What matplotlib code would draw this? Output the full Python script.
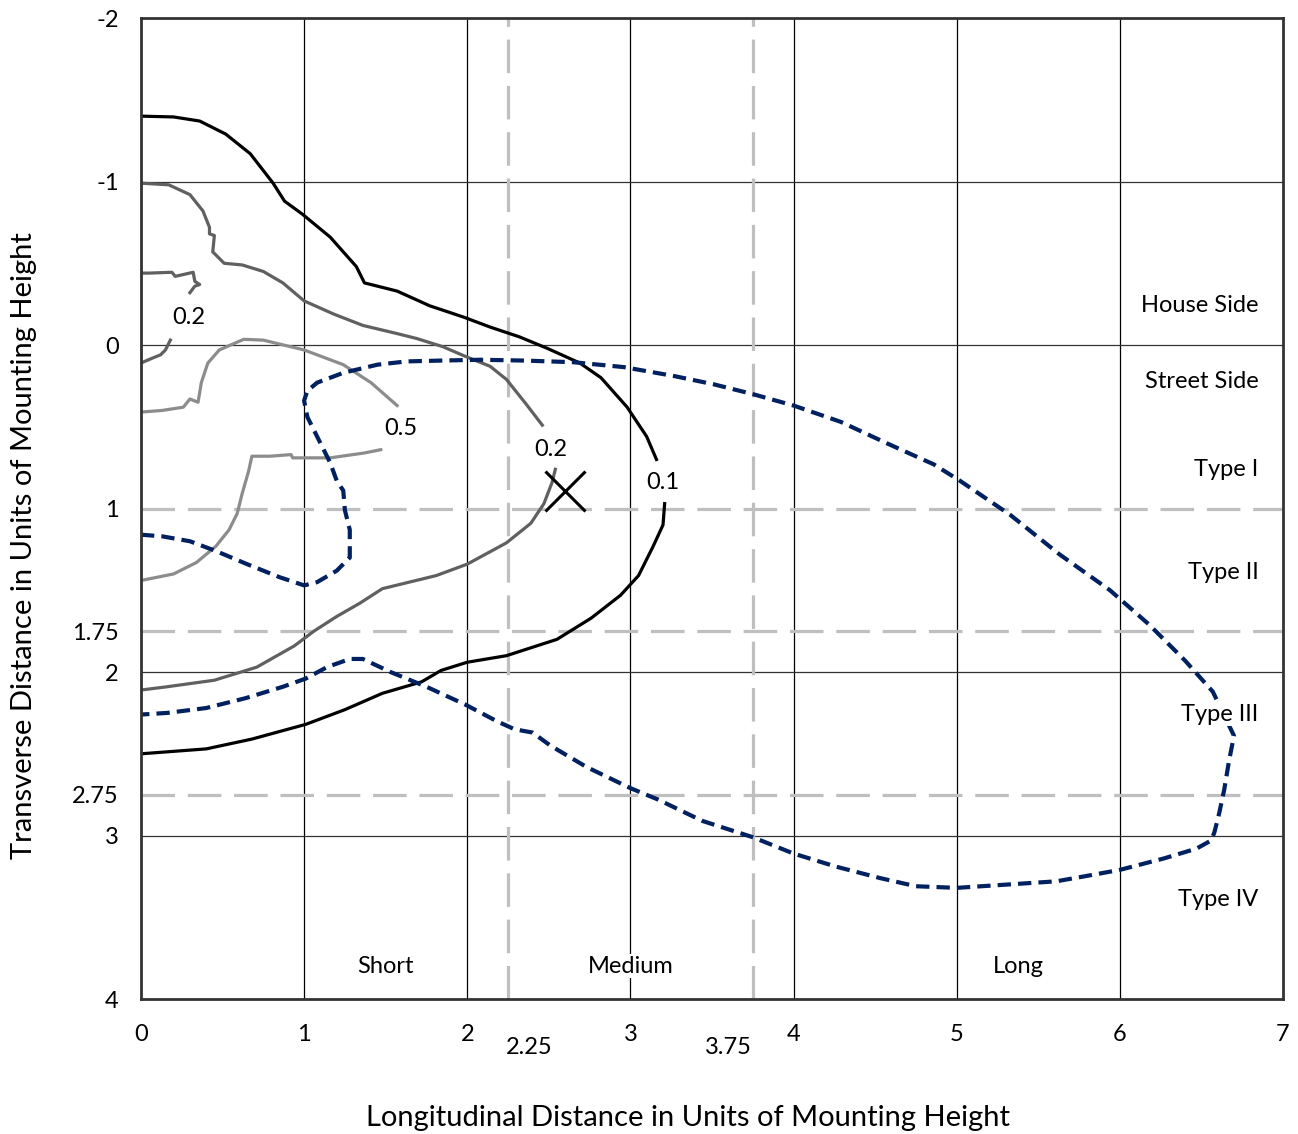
import numpy as np
import matplotlib
matplotlib.use("Agg")
import matplotlib.pyplot as plt
from matplotlib.transforms import blended_transform_factory

plt.rcParams['font.family'] = ['Lato', 'DejaVu Sans']

nan = np.nan

# 0.1 contour (black), gap where the label sits
c01_x = [0, 0.20, 0.36, 0.52, 0.67, 0.81, 0.88, 0.99, 1.16, 1.32, 1.37, 1.57, 1.77, 1.98, 2.14, 2.32,
         2.49, 2.69, 2.82, 2.98, 3.10, 3.16, nan,
         3.21, 3.20, 3.14, 3.05, 2.94, 2.76, 2.55, 2.24, 2.00, 1.84, 1.72, 1.48, 1.25, 1.01,
         0.68, 0.40, 0.0]
c01_y = [-1.40, -1.395, -1.37, -1.29, -1.17, -0.99, -0.88, -0.80, -0.66, -0.48, -0.38, -0.33, -0.24, -0.17,
         -0.11, -0.05, 0.02, 0.11, 0.20, 0.38, 0.56, 0.70, nan,
         0.97, 1.10, 1.23, 1.41, 1.53, 1.67, 1.80, 1.90, 1.94, 1.99, 2.06, 2.13, 2.23, 2.32,
         2.41, 2.47, 2.50]

# outer 0.2 contour (dark grey)
c02_x = [0, 0.17, 0.30, 0.38, 0.42, 0.42, 0.45, 0.44, 0.51, 0.62, 0.75, 0.87, 1.00, 1.18, 1.36,
         1.57, 1.69, 1.85, 1.99, 2.14, 2.24, 2.36, 2.46, nan,
         2.54, 2.52, 2.47, 2.39, 2.24, 2.00, 1.81, 1.48, 1.34, 1.20, 1.06, 0.94, 0.71, 0.45,
         0.16, 0.0]
c02_y = [-0.99, -0.98, -0.92, -0.82, -0.72, -0.68, -0.67, -0.57, -0.50, -0.49, -0.45, -0.38, -0.27,
         -0.19, -0.12, -0.07, -0.04, 0.01, 0.07, 0.13, 0.21, 0.36, 0.49, nan,
         0.76, 0.84, 0.97, 1.09, 1.21, 1.34, 1.41, 1.49, 1.58, 1.66, 1.75, 1.84, 1.97, 2.05,
         2.09, 2.11]

# small inner 0.2 contour near the pole
c02b_x = [0, 0.05, 0.19, 0.21, 0.32, 0.33, 0.36, 0.33, 0.30, nan,
          0.18, 0.15, 0.12, 0.07, 0.0]
c02b_y = [-0.44, -0.44, -0.445, -0.42, -0.445, -0.39, -0.37, -0.36, -0.32, nan,
          -0.03, 0.03, 0.06, 0.08, 0.11]

# 0.5 contour (light grey)
c05_x = [0, 0.13, 0.26, 0.30, 0.35, 0.37, 0.41, 0.48, 0.63, 0.75, 1.00, 1.24, 1.41, 1.57, nan,
         1.47, 1.37, 1.16, 0.93, 0.92, 0.79, 0.68, 0.66, 0.62, 0.59, 0.54, 0.46, 0.34, 0.20, 0.0]
c05_y = [0.41, 0.40, 0.38, 0.33, 0.35, 0.23, 0.11, 0.03, -0.035, -0.03, 0.03, 0.12, 0.23, 0.37, nan,
         0.64, 0.66, 0.69, 0.69, 0.67, 0.68, 0.68, 0.77, 0.91, 1.03, 1.13, 1.23, 1.33, 1.40, 1.44]

# half-maximum candela trace (blue dashed)
cd_x = [0, 0.13, 0.30, 0.46, 0.65, 0.85, 1.00, 1.08, 1.20, 1.28, 1.28, 1.25, 1.24, 1.20, 1.16,
        1.08, 1.02, 1.00, 1.02, 1.08, 1.24, 1.45, 1.63, 1.84, 2.08, 2.35, 2.65, 2.96, 3.27,
        3.51, 3.75, 4.00, 4.29, 4.57, 4.86, 5.02, 5.33, 5.63, 5.94, 6.18, 6.40, 6.57, 6.70,
        6.67, 6.64, 6.61, 6.58, 6.56, 6.47, 6.27, 6.00, 5.78, 5.61, 5.00, 4.75, 4.53, 4.26,
        4.00, 3.75, 3.44, 3.17, 3.00, 2.73, 2.51, 2.40, 2.29, 2.18, 1.99, 1.75, 1.53, 1.36,
        1.28, 1.14, 1.01, 0.87, 0.64, 0.40, 0.16, 0.0]
cd_y = [1.16, 1.17, 1.20, 1.26, 1.34, 1.42, 1.47, 1.45, 1.38, 1.30, 1.13, 1.01, 0.89, 0.83, 0.72,
        0.56, 0.44, 0.34, 0.28, 0.23, 0.17, 0.12, 0.10, 0.095, 0.09, 0.095, 0.105, 0.135, 0.19,
        0.24, 0.30, 0.37, 0.47, 0.60, 0.73, 0.83, 1.04, 1.28, 1.50, 1.71, 1.93, 2.12, 2.39,
        2.54, 2.72, 2.86, 2.98, 3.03, 3.08, 3.14, 3.21, 3.25, 3.28, 3.32, 3.31, 3.26, 3.19,
        3.11, 3.01, 2.91, 2.78, 2.71, 2.58, 2.45, 2.37, 2.35, 2.30, 2.20, 2.09, 2.00, 1.92,
        1.92, 1.97, 2.04, 2.09, 2.16, 2.22, 2.25, 2.26]

max_cd = (2.60, 0.89)

x_ticks = [0, 1, 2, 3, 4, 5, 6, 7]
extra_x_labels = ['2.25', '3.75']
extra_x_pos = [2.38, 3.60]
y_ticks = [-2, -1, 0, 1, 1.75, 2, 2.75, 3, 4]
y_labels = ['-2', '-1', '0', '1', '1.75', '2', '2.75', '3', '4']
grid_x = [1, 2, 3, 4, 5, 6]
grid_y = [-1, 0, 2, 3]
split_x = [2.25, 3.75]
split_y = [1, 1.75, 2.75]

side_labels = ['House Side', 'Street Side', 'Type I', 'Type II', 'Type III', 'Type IV']
side_y = [-0.24, 0.22, 0.76, 1.39, 2.26, 3.39]
range_labels = ['Short', 'Medium', 'Long']
range_x = [1.50, 3.00, 5.38]
contour_labels = ['0.2', '0.5', '0.2', '0.1']
contour_lx = [0.29, 1.59, 2.51, 3.20]
contour_ly = [-0.17, 0.51, 0.64, 0.84]

fig = plt.figure(figsize=(12.98, 11.34), dpi=100)
ax = fig.add_axes([0.1086, 0.119, 0.8798, 0.8651])
ax.set_xlim(0, 7)
ax.set_ylim(4, -2)

for gx in grid_x:
    ax.axvline(gx, color='black', lw=0.9, zorder=1)
for gy in grid_y:
    ax.axhline(gy, color='#333333', lw=0.9, zorder=1)
for sx in split_x:
    ax.axvline(sx, color='#bfbfbf', lw=2.3, dashes=(10.5, 4), zorder=1.5)
for sy in split_y:
    ax.axhline(sy, color='#bfbfbf', lw=2.3, dashes=(10.5, 4), zorder=1.5)

ax.plot(c05_x, c05_y, color='#8c8c8c', lw=2.3, zorder=2)
ax.plot(c02_x, c02_y, color='#606060', lw=2.3, zorder=2)
ax.plot(c02b_x, c02b_y, color='#606060', lw=2.3, zorder=2)
ax.plot(c01_x, c01_y, color='black', lw=2.3, zorder=2.2)
ax.plot(cd_x, cd_y, color='#002060', lw=3, dashes=(3.2, 1.7), zorder=3)
ax.plot([max_cd[0]], [max_cd[1]], marker='x', ms=29, mew=2.2, color='black', zorder=3)

fs = 17
for lab, yy in zip(side_labels, side_y):
    ax.text(6.85, yy, lab, ha='right', va='center', fontsize=fs, zorder=4,
            bbox=dict(facecolor='white', edgecolor='none', pad=1))
for lab, xx in zip(range_labels, range_x):
    ax.text(xx, 3.80, lab, ha='center', va='center', fontsize=fs, zorder=4,
            bbox=dict(facecolor='white', edgecolor='none', pad=1))
for lab, xx, yy in zip(contour_labels, contour_lx, contour_ly):
    ax.text(xx, yy, lab, ha='center', va='center', fontsize=fs, zorder=4)

ax.set_xticks(x_ticks)
ax.set_xticklabels([str(v) for v in x_ticks])
ax.set_yticks(y_ticks)
ax.set_yticklabels(y_labels)
ax.tick_params(axis='x', length=0, pad=18, labelsize=fs)
ax.tick_params(axis='y', length=0, pad=16, labelsize=fs)

trans = blended_transform_factory(ax.transData, fig.transFigure)
for lab, xx in zip(extra_x_labels, extra_x_pos):
    ax.text(xx, 1 - 1048 / 1134, lab, transform=trans, ha='center', va='center', fontsize=fs)

for s in ax.spines.values():
    s.set_color('#333333')
    s.set_linewidth(2)
    s.set_zorder(5)

fig.text(688 / 1298, 1 - 1118 / 1134, 'Longitudinal Distance in Units of Mounting Height',
         ha='center', va='center', fontsize=21)
fig.text(24 / 1298, 1 - 546 / 1134, 'Transverse Distance in Units of Mounting Height',
         ha='center', va='center', rotation=90, fontsize=21)

fig.savefig('out.png', dpi=100)
